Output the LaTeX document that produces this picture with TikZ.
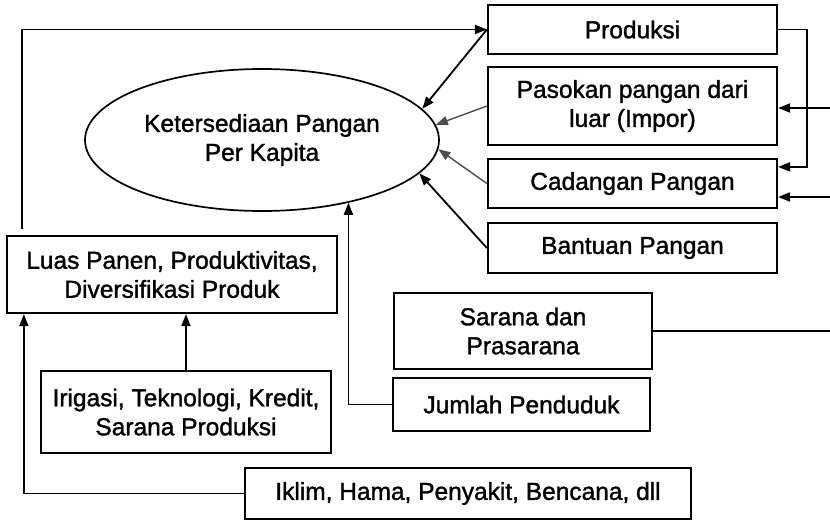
\documentclass[tikz,border=0pt]{standalone}
\usepackage{fontspec}
\setmainfont{Liberation Sans}
\newfontfamily\tebal{Liberation Sans}[FakeBold=1.4]
\usetikzlibrary{calc}
\usetikzlibrary{arrows.meta, shapes.geometric}

\begin{document}
\begin{tikzpicture}[x=1pt,y=-1pt,->,>={Triangle[length=12pt,width=9pt]},line width=1.8pt,
    teks/.style={align=center,font=\tebal\fontsize{24.5}{29}\selectfont},
    kotak/.style={teks,draw,rectangle,line width=2.2pt,inner sep=2pt},
    tipis/.style={black!70,line width=1.4pt}]
  \useasboundingbox (0,0) rectangle (830,520);

  \node[teks, ellipse, draw, line width=1.7pt, inner sep=0pt,
        minimum width=354pt, minimum height=142pt] (kp) at (262,140) {Ketersediaan Pangan\\Per Kapita};
  \node[kotak, minimum width=289pt, minimum height=49pt] (prod)   at (632.5,29.5) {Produksi};
  \node[kotak, minimum width=289pt, minimum height=78pt] (impor)  at (632.5,106)  {Pasokan pangan dari\\luar (Impor)};
  \node[kotak, minimum width=289pt, minimum height=49pt] (cad)    at (632.5,183.5){Cadangan Pangan};
  \node[kotak, minimum width=289pt, minimum height=50pt] (bant)   at (632.5,248)  {Bantuan Pangan};
  \node[kotak, minimum width=330pt, minimum height=77pt] (luas)   at (172,274.5)  {Luas Panen, Produktivitas,\\Diversifikasi Produk};
  \node[kotak, minimum width=290pt, minimum height=82pt] (irig)   at (186,412)    {Irigasi, Teknologi, Kredit,\\Sarana Produksi};
  \node[kotak, minimum width=258pt, minimum height=76pt] (sarana) at (523,331)    {Sarana dan\\Prasarana};
  \node[kotak, minimum width=257pt, minimum height=53pt] (pddk)   at (521.5,404.5){Jumlah Penduduk};
  \node[kotak, minimum width=446pt, minimum height=51pt] (iklim)  at (468,493.5)  {Iklim, Hama, Penyakit, Bencana, dll};

  \coordinate (masuk1) at (830,108);
  \coordinate (masuk2) at (830,197);
  \coordinate (keluar) at (830,331);

  % ke ketersediaan pangan
  \path
        (prod.west)  edge         (kp.11)
        (impor.west) edge [tipis] (kp.5)
        (cad.west)   edge [tipis] (kp.-3)
        (bant.west)  edge         (kp.-12);
  \draw (pddk.west) -| (kp.-36);

  % produksi dan cadangan
  \draw ($(luas.north west)+(16,-6)$) |- (prod.west);
  \draw (prod.east) -- ++(29,0) |- ($(cad.north east)+(0,9)$);
  \draw (masuk1) -- (masuk1 -| impor.east);
  \draw (masuk2) -- (masuk2 -| cad.east);
  \draw[-] (sarana.east) -- (keluar);

  % faktor produksi
  \draw (irig.north) -- (irig.north |- luas.south);
  \draw (iklim.west) -| ($(luas.south west)+(18,0)$);
\end{tikzpicture}
\end{document}
